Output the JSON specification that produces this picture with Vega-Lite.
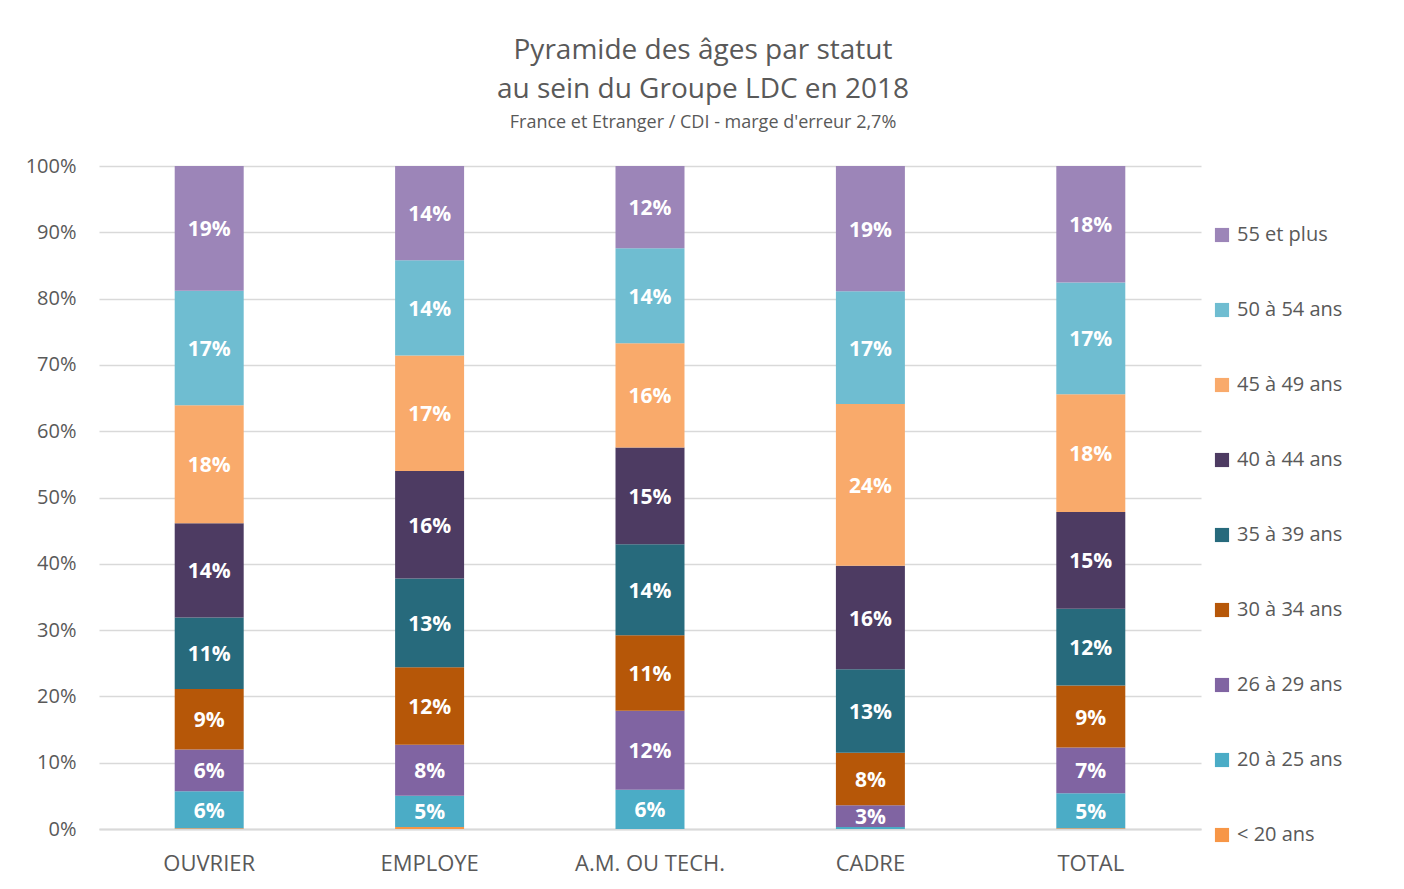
{
  "$schema": "https://vega.github.io/schema/vega-lite/v6.json",
  "width": 1102,
  "height": 663,
  "autosize": "none",
  "padding": {"left": 99, "top": 166, "right": 203, "bottom": 60},
  "background": "white",
  "title": {
    "text": ["Pyramide des âges par statut", "au sein du Groupe LDC en 2018"],
    "subtitle": "France et Etranger / CDI - marge d'erreur 2,7%",
    "anchor": "middle",
    "dx": 53,
    "fontSize": 28,
    "fontWeight": "normal",
    "color": "#595959",
    "lineHeight": 39,
    "subtitleFontSize": 18,
    "subtitleColor": "#595959",
    "subtitlePadding": 10,
    "offset": 24,
    "font": "Open Sans",
    "subtitleFont": "Open Sans"
  },
  "config": {
    "font": "Open Sans",
    "view": {"stroke": null}
  },
  "data": {
    "values": [
      {"statut": "OUVRIER", "age": "< 20 ans", "idx": 1, "value": 0.001},
      {"statut": "OUVRIER", "age": "20 à 25 ans", "idx": 2, "value": 0.056},
      {"statut": "OUVRIER", "age": "26 à 29 ans", "idx": 3, "value": 0.063},
      {"statut": "OUVRIER", "age": "30 à 34 ans", "idx": 4, "value": 0.091},
      {"statut": "OUVRIER", "age": "35 à 39 ans", "idx": 5, "value": 0.108},
      {"statut": "OUVRIER", "age": "40 à 44 ans", "idx": 6, "value": 0.142},
      {"statut": "OUVRIER", "age": "45 à 49 ans", "idx": 7, "value": 0.178},
      {"statut": "OUVRIER", "age": "50 à 54 ans", "idx": 8, "value": 0.173},
      {"statut": "OUVRIER", "age": "55 et plus", "idx": 9, "value": 0.188},
      {"statut": "EMPLOYE", "age": "< 20 ans", "idx": 1, "value": 0.003},
      {"statut": "EMPLOYE", "age": "20 à 25 ans", "idx": 2, "value": 0.047},
      {"statut": "EMPLOYE", "age": "26 à 29 ans", "idx": 3, "value": 0.077},
      {"statut": "EMPLOYE", "age": "30 à 34 ans", "idx": 4, "value": 0.117},
      {"statut": "EMPLOYE", "age": "35 à 39 ans", "idx": 5, "value": 0.134},
      {"statut": "EMPLOYE", "age": "40 à 44 ans", "idx": 6, "value": 0.162},
      {"statut": "EMPLOYE", "age": "45 à 49 ans", "idx": 7, "value": 0.174},
      {"statut": "EMPLOYE", "age": "50 à 54 ans", "idx": 8, "value": 0.144},
      {"statut": "EMPLOYE", "age": "55 et plus", "idx": 9, "value": 0.142},
      {"statut": "A.M. OU TECH.", "age": "< 20 ans", "idx": 1, "value": 0.0},
      {"statut": "A.M. OU TECH.", "age": "20 à 25 ans", "idx": 2, "value": 0.059},
      {"statut": "A.M. OU TECH.", "age": "26 à 29 ans", "idx": 3, "value": 0.119},
      {"statut": "A.M. OU TECH.", "age": "30 à 34 ans", "idx": 4, "value": 0.114},
      {"statut": "A.M. OU TECH.", "age": "35 à 39 ans", "idx": 5, "value": 0.137},
      {"statut": "A.M. OU TECH.", "age": "40 à 44 ans", "idx": 6, "value": 0.146},
      {"statut": "A.M. OU TECH.", "age": "45 à 49 ans", "idx": 7, "value": 0.157},
      {"statut": "A.M. OU TECH.", "age": "50 à 54 ans", "idx": 8, "value": 0.143},
      {"statut": "A.M. OU TECH.", "age": "55 et plus", "idx": 9, "value": 0.124},
      {"statut": "CADRE", "age": "< 20 ans", "idx": 1, "value": 0.0},
      {"statut": "CADRE", "age": "20 à 25 ans", "idx": 2, "value": 0.003},
      {"statut": "CADRE", "age": "26 à 29 ans", "idx": 3, "value": 0.033},
      {"statut": "CADRE", "age": "30 à 34 ans", "idx": 4, "value": 0.079},
      {"statut": "CADRE", "age": "35 à 39 ans", "idx": 5, "value": 0.126},
      {"statut": "CADRE", "age": "40 à 44 ans", "idx": 6, "value": 0.156},
      {"statut": "CADRE", "age": "45 à 49 ans", "idx": 7, "value": 0.244},
      {"statut": "CADRE", "age": "50 à 54 ans", "idx": 8, "value": 0.170},
      {"statut": "CADRE", "age": "55 et plus", "idx": 9, "value": 0.189},
      {"statut": "TOTAL", "age": "< 20 ans", "idx": 1, "value": 0.001},
      {"statut": "TOTAL", "age": "20 à 25 ans", "idx": 2, "value": 0.053},
      {"statut": "TOTAL", "age": "26 à 29 ans", "idx": 3, "value": 0.069},
      {"statut": "TOTAL", "age": "30 à 34 ans", "idx": 4, "value": 0.094},
      {"statut": "TOTAL", "age": "35 à 39 ans", "idx": 5, "value": 0.116},
      {"statut": "TOTAL", "age": "40 à 44 ans", "idx": 6, "value": 0.146},
      {"statut": "TOTAL", "age": "45 à 49 ans", "idx": 7, "value": 0.178},
      {"statut": "TOTAL", "age": "50 à 54 ans", "idx": 8, "value": 0.169},
      {"statut": "TOTAL", "age": "55 et plus", "idx": 9, "value": 0.176}
    ]
  },
  "encoding": {
    "x": {
      "field": "statut",
      "type": "nominal",
      "sort": null,
      "scale": {"paddingInner": 0.687, "paddingOuter": 0.3435},
      "axis": {
        "title": null,
        "labelAngle": 0,
        "labelFontSize": 22,
        "labelColor": "#595959",
        "labelPadding": 24,
        "ticks": false,
        "domainColor": "#d9d9d9",
        "domainWidth": 2
      }
    },
    "y": {
      "field": "value",
      "type": "quantitative",
      "stack": "normalize",
      "scale": {"domain": [0, 1]},
      "axis": {
        "title": null,
        "format": ".0%",
        "values": [0, 0.1, 0.2, 0.3, 0.4, 0.5, 0.6, 0.7, 0.8, 0.9, 1],
        "labelFontSize": 20,
        "labelColor": "#595959",
        "labelPadding": 23,
        "ticks": false,
        "domain": false,
        "gridColor": "#d9d9d9",
        "gridWidth": 1.3
      }
    },
    "order": {"field": "idx", "type": "quantitative", "sort": "ascending"}
  },
  "layer": [
    {
      "mark": {"type": "bar"},
      "encoding": {
        "color": {
          "field": "age",
          "type": "nominal",
          "scale": {
            "domain": ["55 et plus", "50 à 54 ans", "45 à 49 ans", "40 à 44 ans", "35 à 39 ans", "30 à 34 ans", "26 à 29 ans", "20 à 25 ans", "< 20 ans"],
            "range": ["#9c85b8", "#6fbdd1", "#f9aa6b", "#4d3b62", "#276a7c", "#b65708", "#8064a2", "#4bacc6", "#f79646"]
          },
          "legend": {
            "title": null,
            "orient": "none",
            "legendX": 1113,
            "legendY": 59,
            "symbolType": "square",
            "symbolSize": 200,
            "symbolStrokeWidth": 0,
            "labelFontSize": 20,
            "labelColor": "#595959",
            "labelOffset": 5,
            "rowPadding": 55,
            "labelLimit": 300
          }
        }
      }
    },
    {
      "mark": {"type": "text", "color": "white", "fontSize": 21, "fontWeight": "bold", "baseline": "middle", "dy": 2},
      "encoding": {
        "y": {"field": "value", "type": "quantitative", "stack": "normalize", "bandPosition": 0.5},
        "text": {
          "condition": {"test": "datum.value < 0.01", "value": ""},
          "field": "value",
          "type": "quantitative",
          "format": ".0%"
        }
      }
    }
  ]
}
